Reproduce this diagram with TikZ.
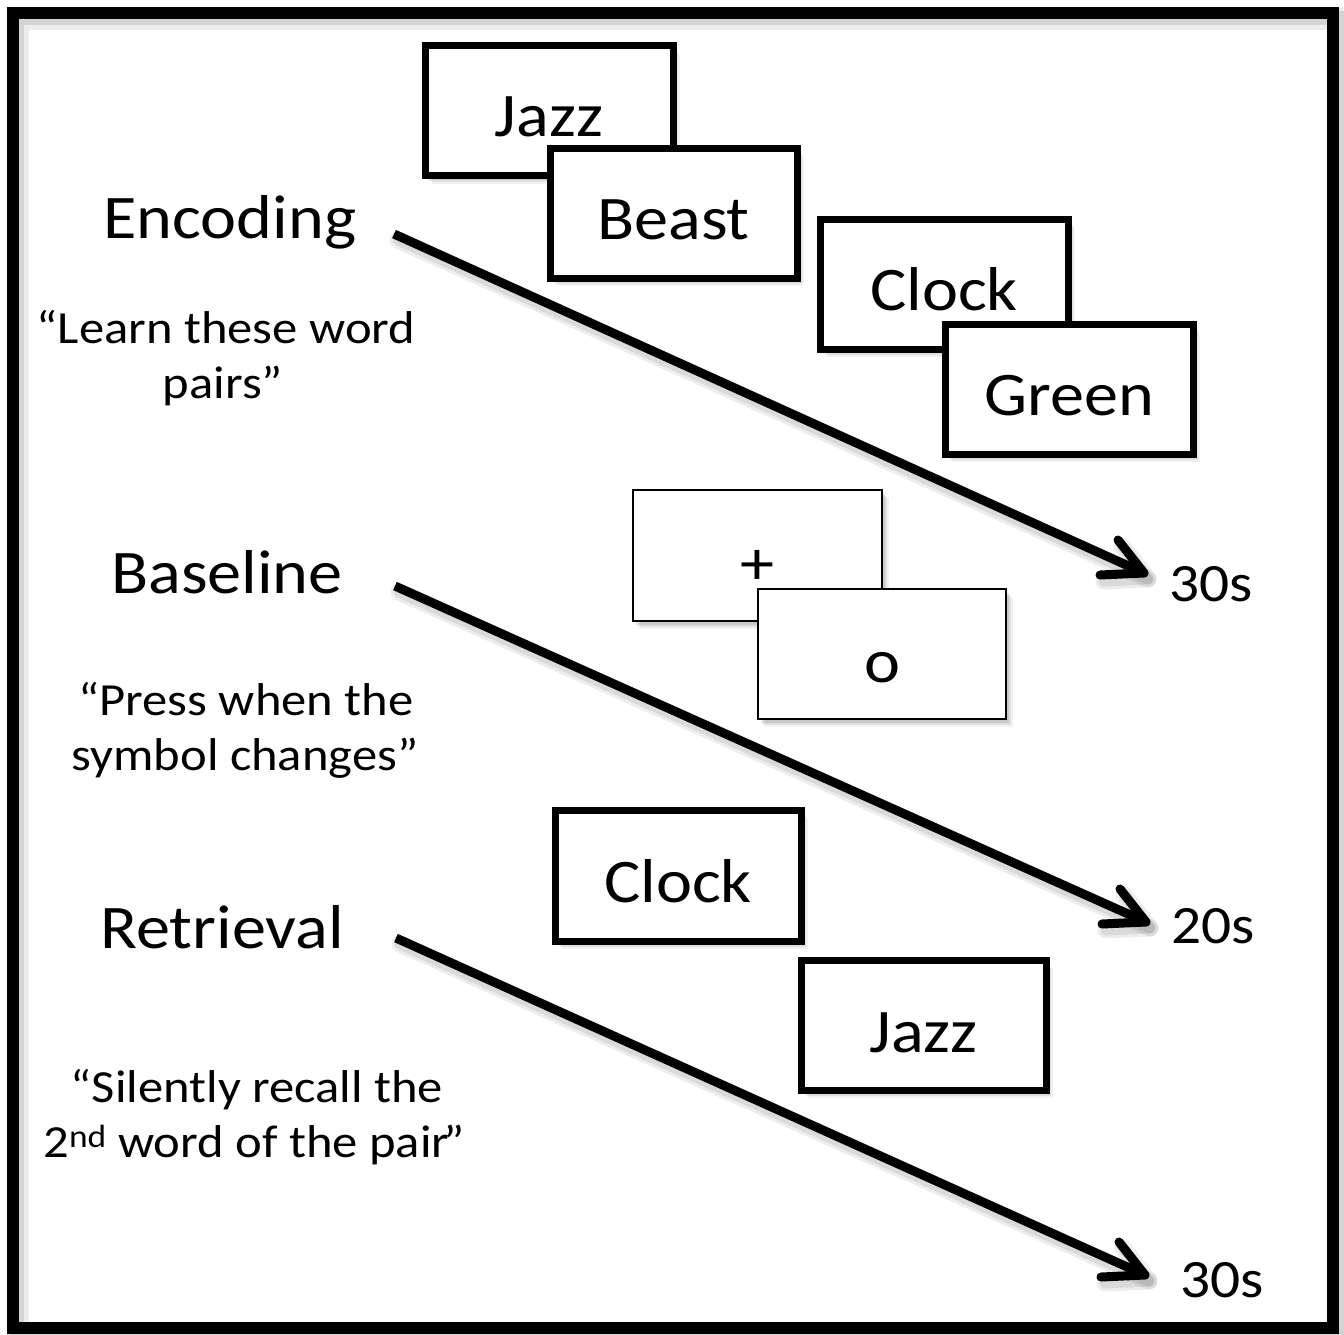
\documentclass[tikz,border=0pt]{standalone}
\usepackage{fontspec}
\setmainfont[FakeStretch=1.1]{Carlito}
\usetikzlibrary{shadows}
\newcommand\boxfont{\fontsize{62}{74}\selectfont}
\newcommand\labfont{\fontsize{62}{74}\selectfont}
\newcommand\quofont{\fontsize{46}{56}\selectfont}
\newcommand\timefont{\fontsize{54}{64}\selectfont}
\begin{document}
\begin{tikzpicture}[x=1pt,y=-1pt,
  every node/.style={inner sep=0pt, outer sep=0pt},
  softshadow/.style={
    general shadow={shadow xshift=3pt, shadow yshift=-4pt, fill=black, opacity=.10},
    general shadow={shadow xshift=5pt, shadow yshift=-6pt, fill=black, opacity=.08},
    general shadow={shadow xshift=7pt, shadow yshift=-8pt, fill=black, opacity=.05}},
  wbox/.style={draw=black, line width=7pt, fill=white, minimum width=248pt,
    minimum height=130pt, font=\boxfont, text height=52pt, text depth=0pt, softshadow},
  thinbox/.style={draw=black, line width=2.5pt, fill=white, minimum width=248pt,
    minimum height=130pt, font=\boxfont, text depth=0pt, softshadow},
  lab/.style={anchor=base, font=\labfont},
  quo/.style={anchor=base, font=\quofont},
  tim/.style={anchor=base, font=\timefont},
  arrowline/.style={draw=black, line width=9pt, shorten >=4pt},
  arrowhd/.style={draw=black, line width=9pt, line cap=round, line join=round},
  lineshadowA/.style={draw=black, opacity=.07, line width=17pt, line cap=round, line join=round,
    transform canvas={shift={(4pt,-6pt)}}},
  lineshadowB/.style={draw=black, opacity=.08, line width=11pt, line cap=round, line join=round,
    transform canvas={shift={(4pt,-6pt)}}},
]
\useasboundingbox (0,0) rectangle (1344,1334);
\fill[white] (0,0) rectangle (1344,1334);
% frame
\draw[black, opacity=.07, line width=22pt, transform canvas={shift={(5pt,-6pt)}}] (13,13) rectangle (1333,1328);
\draw[black, opacity=.10, line width=14pt, transform canvas={shift={(4pt,-5pt)}}] (13,13) rectangle (1333,1328);
\draw[black, line width=12pt] (13,13) rectangle (1333,1328);

% arrow coordinates
\coordinate (es) at (394,234);  \coordinate (et) at (1144,573);
\coordinate (bs) at (395,586);  \coordinate (bt) at (1146,922);
\coordinate (rs) at (396,938);  \coordinate (rt) at (1145,1275);

% arrow shadows
\foreach \s/\t in {es/et, bs/bt, rs/rt}{
  \draw[lineshadowA] (\s) -- (\t);
  \draw[lineshadowA] (\t) ++(-26,-33) -- (\t) -- ++(-44,2);
  \draw[lineshadowB] (\s) -- (\t);
  \draw[lineshadowB] (\t) ++(-26,-33) -- (\t) -- ++(-44,2);
}
% arrows
\foreach \s/\t in {es/et, bs/bt, rs/rt}{
  \draw[arrowline] (\s) -- (\t);
  \draw[arrowhd] (\t) ++(-26,-33) -- (\t) -- ++(-44,2);
}

% encoding boxes
\node[wbox] (jazz1) at (549,110.5) {Jazz};
\node[wbox, minimum width=247pt] (beast) at (673.5,213) {Beast};
\node[wbox] (clock1) at (944,284) {Clock};
\node[wbox] (green) at (1069,389) {Green};
% baseline boxes
\node[thinbox, minimum width=249pt, minimum height=131pt, text height=58pt] (plus) at (757.5,555.5) {+};
\node[thinbox, text height=56pt] (obox) at (882,654) {o};
% retrieval boxes
\node[wbox, minimum width=246pt, minimum height=131pt, text height=54pt] (clock2) at (678,875.5) {Clock};
\node[wbox, minimum width=245pt, text height=54pt] (jazz2) at (923.5,1025) {Jazz};

% labels
\node[lab] (enc) at (230,238) {Encoding};
\node[quo] (enc1) at (226,343) {“Learn these word};
\node[quo] (enc2) at (223,398) {pairs”};
\node[lab] (base) at (227,593) {Baseline};
\node[quo] (base1) at (246,715) {“Press when the};
\node[quo] (base2) at (245,770) {symbol changes”};
\node[lab] (ret) at (222,948) {Retrieval};
\node[quo] (ret1) at (257,1102) {“Silently recall the};
\node[quo] (ret2) at (254,1157) {2\textsuperscript{nd} word of the pair\kern-6pt”};

% times
\node[tim] (t1) at (1211,601) {30s};
\node[tim] (t2) at (1213,943) {20s};
\node[tim] (t3) at (1222,1297) {30s};
\end{tikzpicture}
\end{document}
